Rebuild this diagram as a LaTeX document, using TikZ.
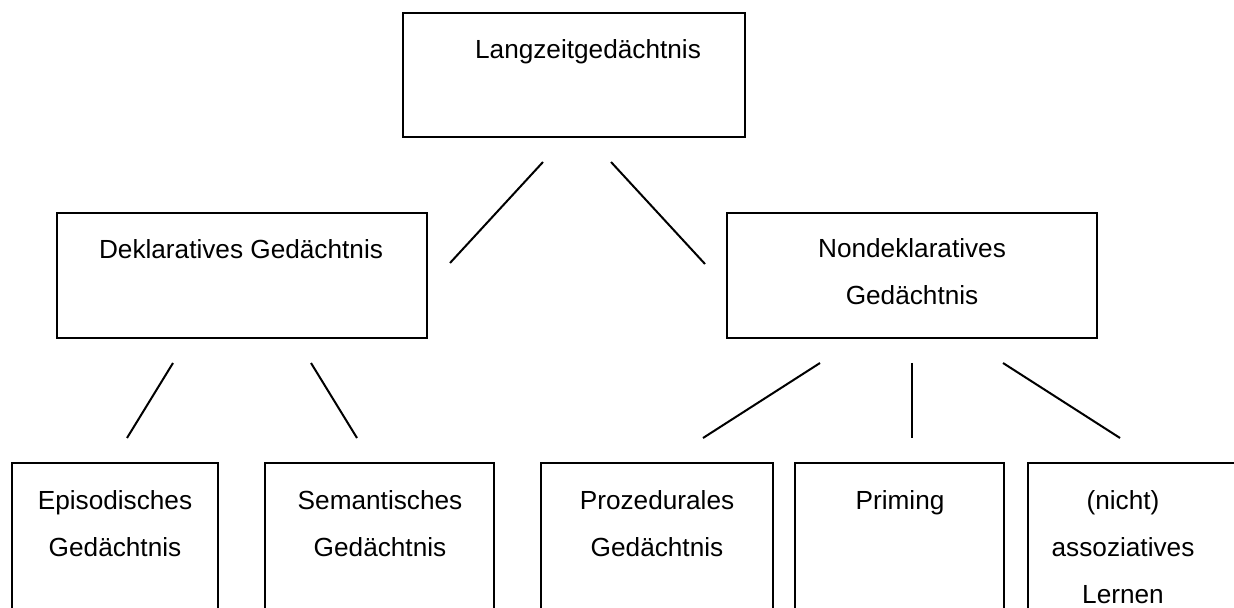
\documentclass[tikz,border=0pt]{standalone}
\usepackage{fontspec}
\setmainfont{Liberation Sans}
\tikzset{
  box/.style={draw=black, line width=1pt, rectangle, inner sep=0pt, outer sep=0pt},
  lbl/.style={anchor=base, inner sep=0pt, font=\fontsize{13.1}{16}\selectfont},
  link/.style={draw=black, line width=1pt}
}
\begin{document}
\begin{tikzpicture}[x=0.5pt,y=-0.5pt]
\useasboundingbox (0,0) rectangle (1234,608);
\clip (0,0) rectangle (1234,608);
% boxes
\node[box, minimum width=171pt, minimum height=62pt] (ltm) at (574,75) {};
\node[box, minimum width=185pt, minimum height=62.5pt] (dek) at (242,275.5) {};
\node[box, minimum width=185pt, minimum height=62.5pt] (ndek) at (912,275.5) {};
\node[box, minimum width=103pt, minimum height=100pt, anchor=north west] (epi) at (12,463) {};
\node[box, minimum width=114.5pt, minimum height=100pt, anchor=north west] (sem) at (265,463) {};
\node[box, minimum width=116pt, minimum height=100pt, anchor=north west] (pro) at (541,463) {};
\node[box, minimum width=104.5pt, minimum height=100pt, anchor=north west] (pri) at (795,463) {};
\node[box, minimum width=120pt, minimum height=100pt, anchor=north west] (ler) at (1028,463) {};
% labels
\node[lbl] (tltm) at (588,59) {Langzeitgedächtnis};
\node[lbl] (tdek) at (241,259) {Deklaratives Gedächtnis};
\node[lbl] (tndek1) at (912,258) {Nondeklaratives};
\node[lbl] (tndek2) at (912,305) {Gedächtnis};
\node[lbl] (tepi1) at (115,509) {Episodisches};
\node[lbl] (tepi2) at (115,556) {Gedächtnis};
\node[lbl] (tsem1) at (380,509) {Semantisches};
\node[lbl] (tsem2) at (380,556) {Gedächtnis};
\node[lbl] (tpro1) at (657,509) {Prozedurales};
\node[lbl] (tpro2) at (657,556) {Gedächtnis};
\node[lbl] (tpri) at (900,509) {Priming};
\node[lbl] (tler1) at (1123,509) {(nicht)};
\node[lbl] (tler2) at (1123,556) {assoziatives};
\node[lbl] (tler3) at (1123,603) {Lernen};
% connector end points
\coordinate (a1) at (543,162); \coordinate (a2) at (450,263);
\coordinate (b1) at (611,162); \coordinate (b2) at (705,264);
\coordinate (c1) at (173,363); \coordinate (c2) at (127,438);
\coordinate (d1) at (311,363); \coordinate (d2) at (357,438);
\coordinate (e1) at (820,363); \coordinate (e2) at (703,438);
\coordinate (f1) at (912,363); \coordinate (f2) at (912,438);
\coordinate (g1) at (1003,363); \coordinate (g2) at (1120,438);
% connectors
\draw[link] (a1) -- (a2);
\draw[link] (b1) -- (b2);
\draw[link] (c1) -- (c2);
\draw[link] (d1) -- (d2);
\draw[link] (e1) -- (e2);
\draw[link] (f1) -- (f2);
\draw[link] (g1) -- (g2);
\end{tikzpicture}
\end{document}
